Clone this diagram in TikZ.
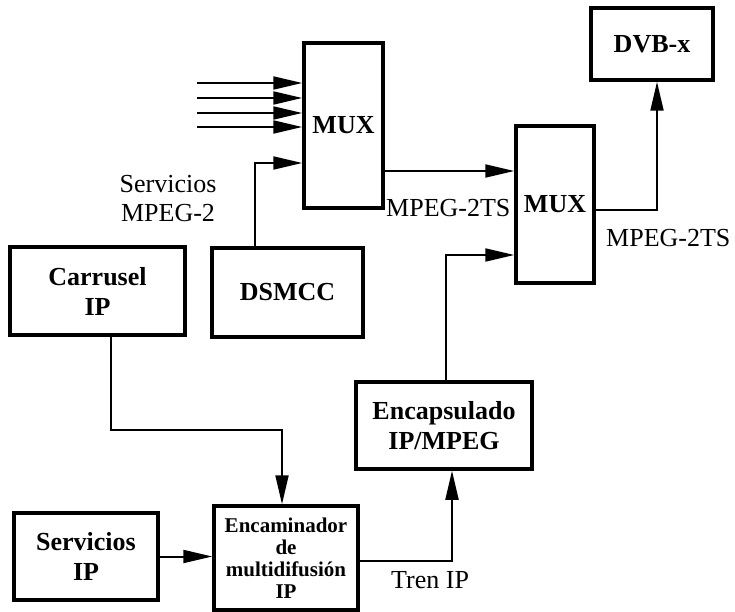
\documentclass[tikz,border=0pt]{standalone}
\usepackage{fontspec}
\setmainfont{Liberation Serif}
\usetikzlibrary{arrows.meta}
\begin{document}
\begin{tikzpicture}[x=1pt,y=-1pt,
 box/.style={draw,line width=3.5pt,inner sep=0pt,align=center,font=\fontsize{26}{30}\selectfont\bfseries},
 smallbox/.style={box,font=\fontsize{21}{22}\selectfont\bfseries},
 conn/.style={line width=2pt},
 arr/.style={conn,-{Triangle[length=29pt,width=13pt]}},
 lbl/.style={font=\fontsize{26}{29}\selectfont,inner sep=0pt,align=center}]
\useasboundingbox (0,0) rectangle (735,612);

% boxes
\node[box,minimum width=79pt,minimum height=165pt] (mux1) at (343.5,125.5) {\raisebox{-4pt}{MUX}};
\node[box,minimum width=78pt,minimum height=157pt] (mux2) at (555,204.5) {\raisebox{-10pt}{MUX}};
\node[box,minimum width=122pt,minimum height=72pt] (dvb) at (652,44) {DVB-x};
\node[box,minimum width=175pt,minimum height=88pt] (carr) at (97.5,291) {Carrusel\\IP};
\node[box,minimum width=151pt,minimum height=89pt] (dsmcc) at (287.5,292.5) {DSMCC};
\node[box,minimum width=176pt,minimum height=87pt] (encap) at (444,425.5) {Encapsulado\\IP/MPEG};
\node[box,minimum width=144pt,minimum height=87pt] (sip) at (86,556.5) {Servicios\\IP};
\node[smallbox,minimum width=144pt,minimum height=104pt] (enc) at (286,558) {Encaminador\\de\\multidifusión\\IP};

% labels
\node[lbl] (smpeg) at (168,198.5) {Servicios\\MPEG-2};
\node[lbl,anchor=west] (mts1) at (386,208) {MPEG-2TS};
\node[lbl,anchor=west] (mts2) at (606,238) {MPEG-2TS};
\node[lbl,anchor=west] (tren) at (391,580) {Tren IP};

% input arrows to MUX 1
\coordinate (in1) at (197,83);
\coordinate (in2) at (197,98);
\coordinate (in3) at (197,113);
\coordinate (in4) at (197,127);
\draw[arr] (in1) -- (in1 -| mux1.west);
\draw[arr] (in2) -- (in2 -| mux1.west);
\draw[arr] (in3) -- (in3 -| mux1.west);
\draw[arr] (in4) -- (in4 -| mux1.west);

% DSMCC -> MUX1
\coordinate (d1) at (255,163);
\draw[arr] (d1 |- dsmcc.north) -- (d1) -- (d1 -| mux1.west);

% MUX1 -> MUX2
\coordinate (m1) at (380,171);
\draw[arr] (mux1.east |- m1) -- (m1 -| mux2.west);

% MUX2 -> DVB
\coordinate (m2) at (657,210);
\draw[arr] (mux2.east |- m2) -- (m2) -- (m2 |- dvb.south);

% Encap -> MUX2
\coordinate (e1) at (446,255);
\draw[arr] (e1 |- encap.north) -- (e1) -- (e1 -| mux2.west);

% Carrusel -> Encaminador
\coordinate (c1) at (111,430);
\coordinate (c2) at (282,430);
\draw[arr] (c1 |- carr.south) -- (c1) -- (c2) -- (c2 |- enc.north);

% Servicios IP -> Encaminador
\draw[arr] (sip.east) -- (sip.east -| enc.west);

% Encaminador -> Encap
\coordinate (t1) at (452,561);
\draw[arr] (enc.east |- t1) -- (t1) -- (t1 |- encap.south);
\end{tikzpicture}
\end{document}
